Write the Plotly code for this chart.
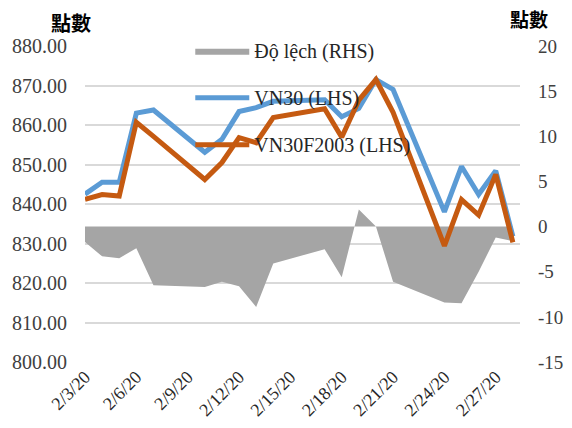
import plotly.graph_objects as go

dates = ["2020-02-03", "2020-02-04", "2020-02-05", "2020-02-06", "2020-02-07",
         "2020-02-10", "2020-02-11", "2020-02-12", "2020-02-13", "2020-02-14",
         "2020-02-17", "2020-02-18", "2020-02-19", "2020-02-20", "2020-02-21",
         "2020-02-24", "2020-02-25", "2020-02-26", "2020-02-27", "2020-02-28"]
vn30 = [842.5, 845.5, 845.5, 863.0, 863.8, 853.1, 856.4, 863.4, 864.4, 866.0,
        866.4, 862.1, 864.2, 871.5, 869.0, 838.0, 849.5, 842.4, 848.4, 831.8]
vn30f = [841.2, 842.4, 842.0, 860.7, 857.1, 846.2, 850.5, 856.8, 855.5, 861.9,
         864.1, 856.9, 866.3, 871.5, 863.2, 829.4, 841.1, 837.2, 847.5, 830.3]
do_lech = [-1.7, -3.3, -3.5, -2.4, -6.5, -6.7, -6.1, -6.6, -8.9, -4.1,
           -2.5, -5.6, 1.9, 0.0, -6.1, -8.4, -8.5, -5.0, -1.2, -1.6]
tick_dates = ["2020-02-03", "2020-02-06", "2020-02-09", "2020-02-12", "2020-02-15",
              "2020-02-18", "2020-02-21", "2020-02-24", "2020-02-27"]
tick_text = ["2/3/20", "2/6/20", "2/9/20", "2/12/20", "2/15/20",
             "2/18/20", "2/21/20", "2/24/20", "2/27/20"]
rhs_ticks = [-15, -10, -5, 0, 5, 10, 15, 20]
rhs_text = ["-15", "-10", "-5", "0", "5", "10", "15", "20"]

SERIF = "Liberation Serif"
CJK = "Noto Sans CJK TC"

fig = go.Figure()
# area sits on the primary axis (ticks on the right) so the y2 lines draw over it
fig.add_trace(go.Scatter(x=dates, y=do_lech, name="Độ lệch (RHS)", mode="lines",
                         fill="tozeroy", fillcolor="#A5A5A5",
                         line=dict(width=0, color="#A5A5A5"),
                         legendgroup="a", yaxis="y"))
fig.add_trace(go.Scatter(x=dates, y=vn30, name="VN30 (LHS)", mode="lines",
                         line=dict(color="#5B9BD5", width=5),
                         legendgroup="b", yaxis="y2"))
fig.add_trace(go.Scatter(x=dates, y=vn30f, name="VN30F2003 (LHS)", mode="lines",
                         line=dict(color="#C55A11", width=5),
                         legendgroup="c", yaxis="y2"))

# page body adds an 8px margin, so the figure is 8px smaller than the window
fig.update_layout(
    width=564, height=420,
    margin=dict(l=77, r=52, t=38, b=66),
    plot_bgcolor="white", paper_bgcolor="white",
    font=dict(family=SERIF, size=20, color="#404040"),
    showlegend=True,
    legend=dict(x=0.242, y=1.047, xanchor="left", yanchor="top",
                bgcolor="rgba(0,0,0,0)", traceorder="grouped",
                tracegroupgap=18, itemwidth=54,
                font=dict(family=SERIF, size=20, color="#262626")),
    xaxis=dict(type="date", range=["2020-02-03", "2020-02-28 10:00"],
               tickvals=tick_dates, ticktext=tick_text, tickangle=-45,
               showgrid=False, zeroline=False, showline=False, automargin=False,
               tickfont=dict(family=SERIF, size=18, color="#262626")),
    yaxis=dict(side="right", range=[-15, 20], tickvals=rhs_ticks, ticktext=rhs_text,
               showgrid=False, zeroline=False, showline=False,
               ticklabelstandoff=17, automargin=False,
               tickfont=dict(family=SERIF, size=19, color="#404040")),
    yaxis2=dict(side="left", overlaying="y", range=[800, 880], dtick=10,
                tickformat=".2f", showgrid=True, gridcolor="#D9D9D9",
                gridwidth=1.6, zeroline=False, showline=False,
                ticklabelstandoff=17, automargin=False,
                tickfont=dict(family=SERIF, size=20, color="#404040")),
)

fig.add_annotation(text="<b>點數</b>", xref="paper", yref="paper",
                   x=-0.033, y=1.073, xanchor="center", yanchor="middle",
                   showarrow=False, font=dict(family=CJK, size=20, color="black"))
fig.add_annotation(text="<b>點數</b>", xref="paper", yref="paper",
                   x=1.021, y=1.087, xanchor="center", yanchor="middle",
                   showarrow=False, font=dict(family=CJK, size=19, color="black"))

fig.write_html("out.html")
